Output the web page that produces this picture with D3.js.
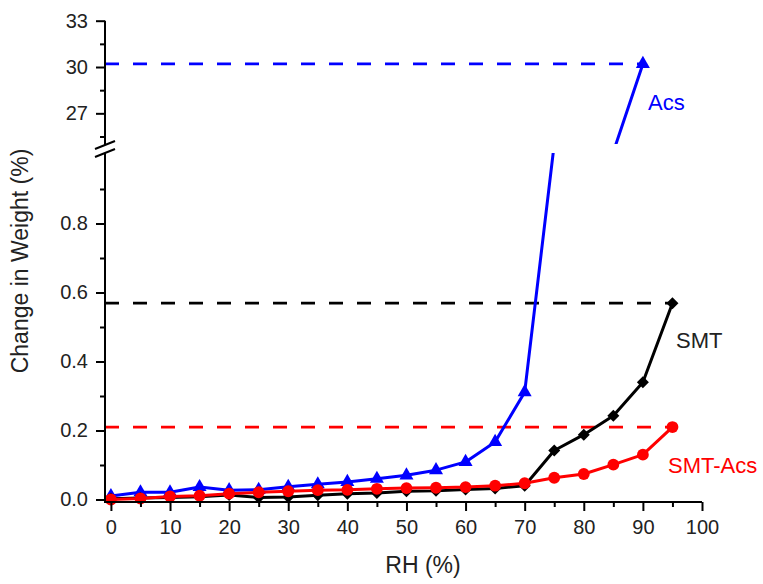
<!DOCTYPE html>
<html>
<head>
<meta charset="utf-8">
<script src="https://cdn.jsdelivr.net/npm/d3@7"></script>
<style>
  body { margin: 0; background: #fff; }
  svg text { font-family: Arial, "Liberation Sans", sans-serif; }
</style>
</head>
<body>
<svg id="chart" width="763" height="584"></svg>
<script>
// RH steps (%)
var rh = [0, 5, 10, 15, 20, 25, 30, 35, 40, 45, 50, 55, 60, 65, 70, 75, 80, 85, 90, 95];

// change in weight (%)
var acs = [0.010, 0.021, 0.021, 0.036, 0.027, 0.028, 0.037, 0.044, 0.051, 0.060, 0.070, 0.085, 0.109, 0.167, 0.311, 1.03, 10.0, 24.5, 30.2];
var smt = [0.002, 0.004, 0.006, 0.008, 0.013, 0.006, 0.007, 0.012, 0.017, 0.019, 0.024, 0.025, 0.029, 0.032, 0.040, 0.142, 0.188, 0.243, 0.340, 0.569];
var smtAcs = [0.000, 0.003, 0.009, 0.011, 0.017, 0.021, 0.024, 0.027, 0.028, 0.031, 0.033, 0.034, 0.036, 0.040, 0.047, 0.063, 0.074, 0.101, 0.130, 0.210];

// tick values
var xMajor = [0, 10, 20, 30, 40, 50, 60, 70, 80, 90, 100];
var xMinor = [5, 15, 25, 35, 45, 55, 65, 75, 85, 95];
var lowMajor = [0, 0.2, 0.4, 0.6, 0.8];
var lowMinor = [0.1, 0.3, 0.5, 0.7, 0.9];
var highMajor = [27, 30, 33];
var highMinor = [25.5, 28.5, 31.5];

// plateau (final) levels shown as dashed lines
var plateaus = [
  {name: "Acs", value: 30.2, at: 90, panel: "high", color: "#0000ff"},
  {name: "SMT", value: 0.569, at: 95, panel: "low", color: "#000000"},
  {name: "SMT-Acs", value: 0.210, at: 95, panel: "low", color: "#ff0000"}
];

var svg = d3.select("#chart");

var x = d3.scaleLinear().domain([-1, 100]).range([105, 702]);
var yLow = d3.scaleLinear().domain([0, 1]).range([499.5, 154.5]);
var yHigh = d3.scaleLinear().domain([25, 33]).range([144.2, 20.7]);

var axisY = 502;      // x axis line
var lowTop = 153;     // top of lower panel
var highBottom = 144; // bottom of upper panel

function toPts(vals){
  return vals.map(function(v, i){ return {x: rh[i], y: v}; });
}

// clip paths for the two panels
var defs = svg.append("defs");
defs.append("clipPath").attr("id", "clipLow")
  .append("rect").attr("x", 0).attr("y", lowTop).attr("width", 763).attr("height", 584 - lowTop);
defs.append("clipPath").attr("id", "clipHigh")
  .append("rect").attr("x", 0).attr("y", 0).attr("width", 763).attr("height", highBottom);

// dashed plateau lines
plateaus.forEach(function(p){
  var ys = p.panel == "high" ? yHigh : yLow;
  svg.append("line")
    .attr("x1", x(-1)).attr("x2", x(p.at))
    .attr("y1", ys(p.value)).attr("y2", ys(p.value))
    .style("stroke", p.color)
    .style("stroke-width", 2.8)
    .style("stroke-dasharray", "14,14");
});

function drawSeries(g, vals, ys, color, symbol, size, rot){
  var pts = toPts(vals);
  var line = d3.line()
    .x(function(d){ return x(d.x); })
    .y(function(d){ return ys(d.y); });
  g.append("path")
    .datum(pts)
    .attr("d", line)
    .style("fill", "none")
    .style("stroke", color)
    .style("stroke-width", 3)
    .style("stroke-linejoin", "round");
  g.selectAll(".m").data(pts).enter().append("path")
    .attr("d", d3.symbol().type(symbol).size(size))
    .attr("transform", function(d){
      return "translate(" + x(d.x) + "," + ys(d.y) + ") rotate(" + (rot || 0) + ")";
    })
    .style("fill", color);
}

var low = svg.append("g").attr("clip-path", "url(#clipLow)");
var high = svg.append("g").attr("clip-path", "url(#clipHigh)");

drawSeries(low, acs, yLow, "#0000ff", d3.symbolTriangle, 85);
drawSeries(high, acs, yHigh, "#0000ff", d3.symbolTriangle, 85);
drawSeries(low, smt, yLow, "#000000", d3.symbolSquare, 72, 45);
drawSeries(low, smtAcs, yLow, "#ff0000", d3.symbolCircle, 110);

// axes
function styleAxis(g){
  g.select(".domain").remove();
  g.selectAll(".tick line").style("stroke", "#000").style("stroke-width", 2);
  g.selectAll(".tick text").style("font-size", "20px").style("fill", "#222");
}

svg.append("g").attr("transform", "translate(0," + axisY + ")")
  .call(d3.axisBottom(x).tickValues(xMajor).tickSize(9).tickPadding(9).tickFormat(d3.format("d")))
  .call(styleAxis);
svg.append("g").attr("transform", "translate(0," + axisY + ")")
  .call(d3.axisBottom(x).tickValues(xMinor).tickSize(5).tickFormat(""))
  .call(styleAxis);

svg.append("g").attr("transform", "translate(105,0)")
  .call(d3.axisLeft(yLow).tickValues(lowMajor).tickSize(9).tickPadding(8).tickFormat(d3.format(".1f")))
  .call(styleAxis);
svg.append("g").attr("transform", "translate(105,0)")
  .call(d3.axisLeft(yLow).tickValues(lowMinor).tickSize(5).tickFormat(""))
  .call(styleAxis);
svg.append("g").attr("transform", "translate(105,0)")
  .call(d3.axisLeft(yHigh).tickValues(highMajor).tickSize(9).tickPadding(8).tickFormat(d3.format("d")))
  .call(styleAxis);
svg.append("g").attr("transform", "translate(105,0)")
  .call(d3.axisLeft(yHigh).tickValues(highMinor).tickSize(5).tickFormat(""))
  .call(styleAxis);

// axis lines
svg.append("line")
  .attr("x1", 105).attr("x2", 105).attr("y1", yHigh(33)).attr("y2", axisY + 1)
  .style("stroke", "#000").style("stroke-width", 2);
svg.append("line")
  .attr("x1", 104).attr("x2", x(100)).attr("y1", axisY).attr("y2", axisY)
  .style("stroke", "#000").style("stroke-width", 2);

// axis break marks
svg.append("polygon")
  .attr("points", "95,149 115,141 115,149 95,157")
  .style("fill", "#fff");
svg.append("line").attr("x1", 95).attr("y1", 149).attr("x2", 115).attr("y2", 141)
  .style("stroke", "#000").style("stroke-width", 2);
svg.append("line").attr("x1", 95).attr("y1", 157).attr("x2", 115).attr("y2", 149)
  .style("stroke", "#000").style("stroke-width", 2);

// titles
svg.append("text")
  .attr("x", 423).attr("y", 573)
  .attr("text-anchor", "middle")
  .style("font-size", "23px").style("fill", "#222")
  .text("RH (%)");
svg.append("text")
  .attr("transform", "translate(28,261) rotate(-90)")
  .attr("text-anchor", "middle")
  .style("font-size", "23px").style("fill", "#222")
  .text("Change in Weight (%)");

// series labels
svg.append("text").attr("x", 648).attr("y", 110)
  .style("font-size", "22px").style("fill", "#0000ff").text("Acs");
svg.append("text").attr("x", 676).attr("y", 348)
  .style("font-size", "22px").style("fill", "#222").text("SMT");
svg.append("text").attr("x", 668).attr("y", 473)
  .style("font-size", "22px").style("fill", "#ff0000").text("SMT-Acs");
</script>
</body>
</html>
